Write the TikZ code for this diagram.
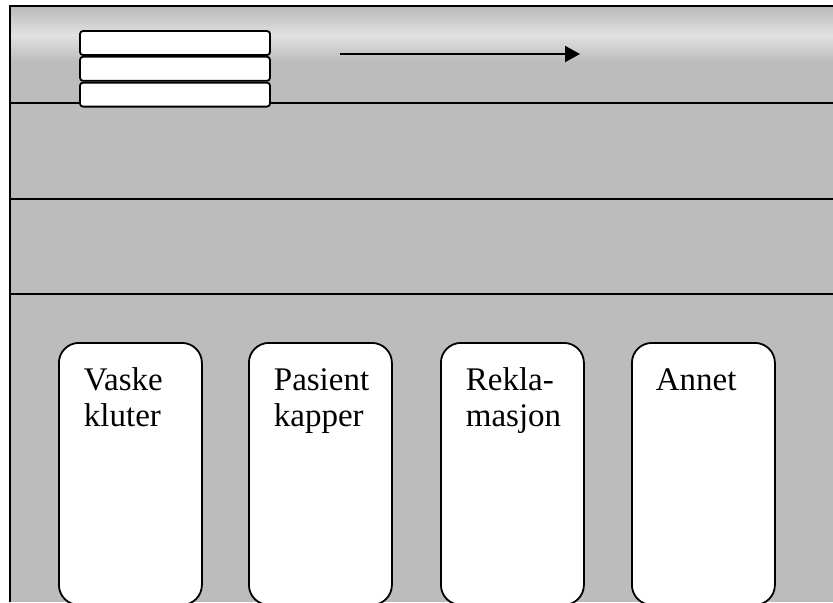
\documentclass[tikz,border=0pt]{standalone}
\usepackage{fontspec}
\setmainfont{Liberation Serif}
\usetikzlibrary{positioning}
\usetikzlibrary{arrows.meta}
\definecolor{panelgray}{RGB}{188,188,188}
\definecolor{panellight}{RGB}{225,225,225}
\begin{document}
\begin{tikzpicture}[x=0.5pt,y=-0.5pt,line width=0.9pt,
  tray/.style={draw,fill=white,rounded corners=1.5pt,minimum width=95pt,minimum height=12pt,inner sep=0pt},
  card/.style={draw,fill=white,rounded corners=10pt,minimum width=71.5pt,minimum height=131pt,inner sep=0pt,anchor=north west},
  cardtext/.style={anchor=base west,align=left,inner sep=0pt,font=\fontsize{16.5}{18}\selectfont}]
  \clip (0,0) rectangle (833,602);
  % panel
  \fill[panelgray] (10,6) rectangle (833,602);
  \shade[top color=panelgray,bottom color=panelgray,middle color=panellight] (10,8) rectangle (833,62);
  \draw (10,602)--(10,6)--(833,6);
  \draw (10,103)--(833,103);
  \draw (10,199)--(833,199);
  \draw (10,294)--(833,294);

  % trays
  \node[tray] (tray1) at (175,43) {};
  \node[tray,below=0pt of tray1] (tray2) {};
  \node[tray,below=0pt of tray2] (tray3) {};

  \coordinate (from) at (340,54);
  \coordinate (to) at (580,54);
  \draw[line width=1pt,-{Triangle[length=7.5pt,width=8pt]}] (from)--(to);

  % cards
  \node[card] (vaske) at (58,342) {};
  \node[card] (pasient) at (248,342) {};
  \node[card] (rekla) at (440,342) {};
  \node[card] (annet) at (631,342) {};

  % base = last line
  \node[cardtext] at ([xshift=12.5pt,yshift=-42pt]vaske.north west) {Vaske\\kluter};
  \node[cardtext] at ([xshift=12.5pt,yshift=-42pt]pasient.north west) {Pasient\\kapper};
  \node[cardtext] at ([xshift=12.5pt,yshift=-42pt]rekla.north west) {Rekla-\\masjon};
  \node[cardtext] at ([xshift=12pt,yshift=-24pt]annet.north west) {Annet};
\end{tikzpicture}
\end{document}
